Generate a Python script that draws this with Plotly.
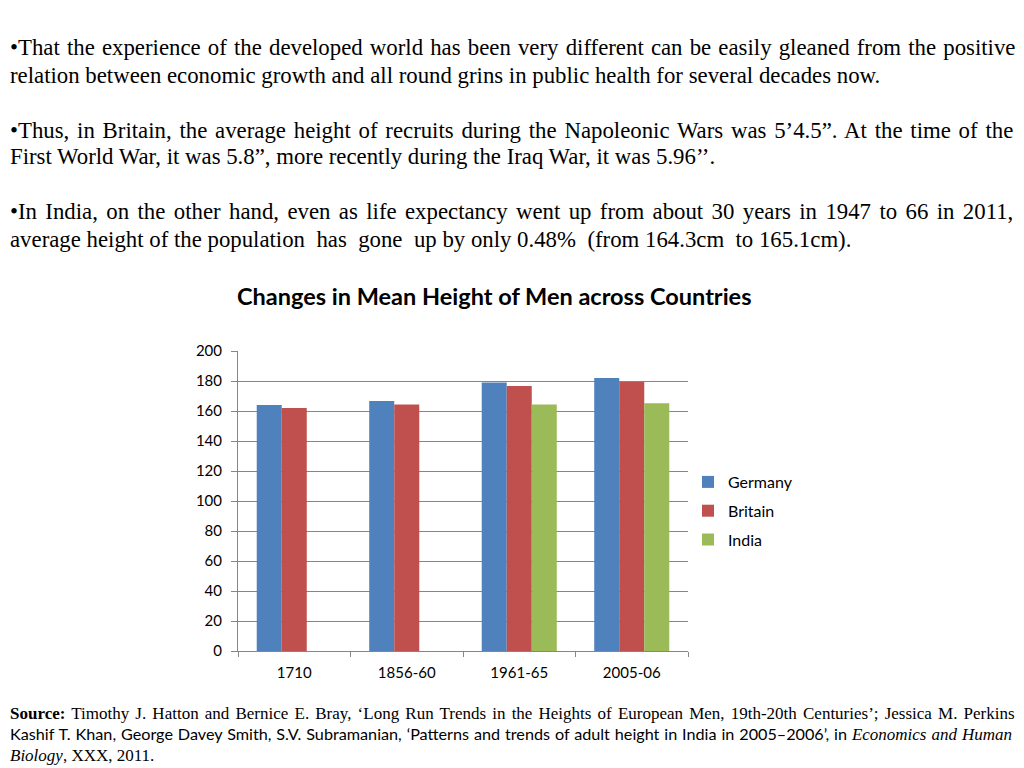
import plotly.graph_objects as go

categories = ["1710", "1856-60", "1961-65", "2005-06"]
germany = [164, 166.7, 179, 182]
britain = [162, 164.3, 176.7, 179.3]
india = [None, None, 164.3, 165.1]
series_names = ["Germany", "Britain", "India"]
colors = ["#4F81BD", "#C0504D", "#9BBB59"]
y_ticks = [0, 20, 40, 60, 80, 100, 120, 140, 160, 180, 200]

W = 1024
OFF, HE = 9, 750
def px(x):
    return x / W
def py(y):
    return 1 - (y - OFF) / HE

def justify(text, ws):
    return "<span style=\"word-spacing:%.2fpx\">%s</span>" % (ws, text)

fig = go.Figure()
for i, (name, vals) in enumerate(zip(series_names, [germany, britain, india])):
    fig.add_trace(go.Bar(x=categories, y=vals, name=name, marker_color=colors[i],
                         marker_line_width=0, legendgroup=name))

serif = "Liberation Serif, Times New Roman, serif"
sans = "Lato, Open Sans, sans-serif"

body_lines = [
    (47, justify("•That the experience of the developed world has been very different can be easily gleaned from the positive", 1.47)),
    (74, "relation between economic growth and all round grins in public health for several decades now."),
    (129, justify("•Thus, in Britain, the average height of recruits during the Napoleonic Wars was 5’4.5”. At the time of the", 2.1)),
    (156, "First World War, it was 5.8”, more recently during the Iraq War, it was 5.96’’."),
    (211, justify("•In India, on the other hand, even as life expectancy went up from about 30 years in 1947 to 66 in 2011,", 2.7)),
    (238, "average height of the population  has  gone  up by only 0.48%  (from 164.3cm  to 165.1cm)."),
]
ann = []
for y, t in body_lines:
    ann.append(dict(x=px(8), y=py(y), xref="paper", yref="paper", text=t, showarrow=False,
                    xanchor="left", yanchor="middle", font=dict(family=serif, size=22.8, color="black")))

ann.append(dict(x=px(494), y=py(295), xref="paper", yref="paper",
                text="<b>Changes in Mean Height of Men across Countries</b>", showarrow=False,
                xanchor="center", yanchor="middle", font=dict(family=sans, size=23.5, color="black")))

src_lines = [
    (712, "<span style=\"word-spacing:1.9px\"><b>Source:</b> Timothy J. Hatton and Bernice E. Bray, ‘Long Run Trends in the Heights of European Men, 19th-20th Centuries’; Jessica M. Perkins</span>"),
    (733, "<span style=\"word-spacing:0.75px\"><span style=\"font-family:Lato, sans-serif;font-size:16.2px\">Kashif T. Khan, George Davey Smith, S.V. Subramanian, ‘Patterns and trends of adult height in India in 2005–2006’, in </span><i>Economics and Human</i></span>"),
    (754, "<i>Biology</i>, XXX, 2011."),
]
for y, t in src_lines:
    ann.append(dict(x=px(8), y=py(y), xref="paper", yref="paper", text=t, showarrow=False,
                    xanchor="left", yanchor="middle", font=dict(family=serif, size=17, color="black")))

fig.update_layout(
    width=W, height=768,
    margin=dict(l=0, r=0, t=0, b=0),
    paper_bgcolor="white", plot_bgcolor="white",
    barmode="group", bargap=0.333, bargroupgap=0,
    annotations=ann,
    showlegend=True,
    legend=dict(x=px(688), y=py(464), xanchor="left", yanchor="top",
                font=dict(family=sans, size=16, color="black"),
                tracegroupgap=5, itemwidth=30, bgcolor="rgba(0,0,0,0)"),
    xaxis=dict(domain=[px(238), px(688)], type="category", showline=True, linecolor="#868686",
               linewidth=1, ticks="outside", tickson="boundaries", ticklen=5, tickcolor="#868686",
               ticklabelstandoff=8,
               tickfont=dict(family=sans, size=15, color="black"), showgrid=False),
    yaxis=dict(domain=[py(650), py(350)], range=[0, 200], tickvals=y_ticks, showline=True,
               linecolor="#868686", linewidth=1, ticks="outside", ticklen=6, tickcolor="#868686",
               gridcolor="#868686", gridwidth=1, zeroline=False, ticklabelstandoff=6,
               tickfont=dict(family=sans, size=15, color="black")),
)

fig.write_html("out.html", config={"displayModeBar": False},
               post_script="document.body.style.margin='0';")
